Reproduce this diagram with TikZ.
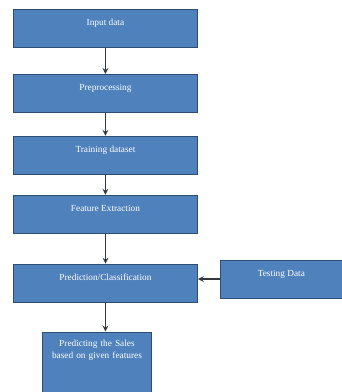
\documentclass[tikz,border=0pt]{standalone}
\usepackage{fontspec}
\setmainfont{Liberation Serif}
\usepackage{tikz}
\usetikzlibrary{positioning}
\usetikzlibrary{arrows}
\definecolor{boxfill}{HTML}{4F81BD}
\definecolor{boxline}{HTML}{2F4D72}
\definecolor{arrowcol}{HTML}{33383E}

\begin{document}
\begin{tikzpicture}[internal/.style={draw=boxline, fill=boxfill, rectangle, line width=0.9pt, inner sep=0pt, text=white,
				font=\fontsize{9.3}{11.5}\selectfont, minimum width=184pt, minimum height=38pt, text height=16pt, text depth=22pt},
				flow/.style={-stealth, draw=arrowcol, line width=1.6pt}]
				\useasboundingbox (0,0) rectangle (341pt,-392pt);
				\node[internal, anchor=north west](node1) at (13pt, -9pt) {Input data};
				\node[internal, below=26pt of node1](node2) {Preprocessing};
				\node[internal, below=23pt of node2](node3) {Training dataset};
				\node[internal, below=20pt of node3](node4) {Feature Extraction};
				\node[internal, below=30pt of node4](node5) {Prediction/Classification};
				\node[internal, minimum width=122pt, right=22pt of node5, yshift=4pt](node6) {Testing Data};
				\node[internal, align=center, text width=109pt, minimum width=109pt, minimum height=66pt, text height=15pt, text depth=51pt,
					below=29pt of node5, xshift=-8.5pt](node7) {Predicting the Sales\\based on given features};
				
				\draw [flow] (node1) -- (node2);
				\draw [flow] (node2) -- (node3);
				\draw [flow] (node3) -- (node4);
				\draw [flow] (node4) -- (node5);
				\draw [flow] (node6.west) -- (node6.west -| node5.east);
				\draw [flow] (node5.south) -- (node5.south |- node7.north);
				
			\end{tikzpicture}
\end{document}
